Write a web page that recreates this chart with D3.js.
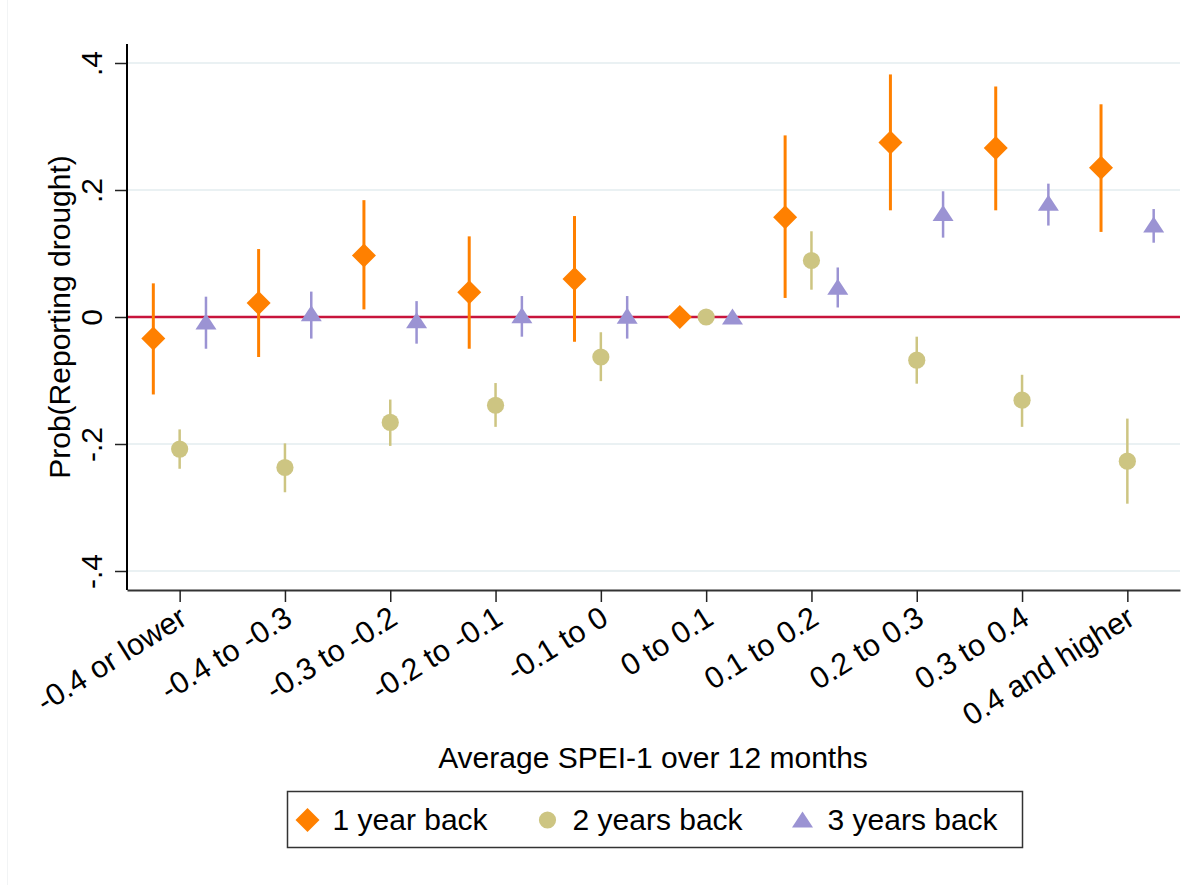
<!DOCTYPE html>
<html>
<head>
<meta charset="utf-8">
<script src="https://cdn.jsdelivr.net/npm/d3@7"></script>
<style>
  body { margin: 0; background: #fff; }
  text { font-family: "Liberation Sans", Arial, sans-serif; fill: #000; }
</style>
</head>
<body>
<div id="painting"></div>
<script>
// categories of average SPEI-1
var categories = ["-0.4 or lower", "-0.4 to -0.3", "-0.3 to -0.2", "-0.2 to -0.1", "-0.1 to 0",
  "0 to 0.1", "0.1 to 0.2", "0.2 to 0.3", "0.3 to 0.4", "0.4 and higher"];

var yTicks = [0.4, 0.2, 0, -0.2, -0.4];
var yTickLabels = [".4", ".2", "0", "-.2", "-.4"];

// 1 year back
var est1 = [-0.034, 0.022, 0.097, 0.039, 0.060, 0, 0.157, 0.275, 0.266, 0.235];
var lo1  = [-0.122, -0.063, 0.012, -0.050, -0.039, 0, 0.030, 0.168, 0.168, 0.134];
var hi1  = [0.053, 0.107, 0.184, 0.127, 0.159, 0, 0.286, 0.382, 0.363, 0.335];

// 2 years back
var est2 = [-0.208, -0.237, -0.166, -0.139, -0.063, 0, 0.089, -0.068, -0.131, -0.227];
var lo2  = [-0.239, -0.276, -0.203, -0.173, -0.101, 0, 0.043, -0.105, -0.173, -0.294];
var hi2  = [-0.177, -0.199, -0.130, -0.104, -0.024, 0, 0.135, -0.031, -0.091, -0.160];

// 3 years back
var est3 = [-0.008, 0.005, -0.006, 0.002, 0.001, 0, 0.047, 0.163, 0.179, 0.145];
var lo3  = [-0.050, -0.034, -0.042, -0.031, -0.034, 0, 0.015, 0.125, 0.144, 0.117];
var hi3  = [0.032, 0.040, 0.025, 0.033, 0.033, 0, 0.078, 0.198, 0.210, 0.170];

var seriesNames = ["1 year back", "2 years back", "3 years back"];

var series = [
  {name: seriesNames[0], est: est1, lo: lo1, hi: hi1, colour: "#ff8000", shape: "diamond", shift: -0.25, lw: 3},
  {name: seriesNames[1], est: est2, lo: lo2, hi: hi2, colour: "#cdc582", shape: "circle", shift: 0, lw: 2.5},
  {name: seriesNames[2], est: est3, lo: lo3, hi: hi3, colour: "#9b93d3", shape: "triangle", shift: 0.25, lw: 2.5}
];

var W = 1197, H = 885;
var plotLeft = 127, plotRight = 1180, plotTop = 44, plotBottom = 590;

var svg = d3.select("#painting")
  .append("svg")
  .attr("width", W)
  .attr("height", H);

// faint outer frame edge
svg.append("line")
  .attr("x1", 7.5).attr("x2", 7.5)
  .attr("y1", 0).attr("y2", H)
  .attr("stroke", "#f2f4f5")
  .attr("stroke-width", 1);

var xScale = d3.scaleLinear().domain([-0.5, categories.length - 0.5]).range([plotLeft, plotRight]);
var yScale = d3.scaleLinear().domain([-0.4, 0.4]).range([571, 63]);

// gridlines
svg.append("g")
  .selectAll("line")
  .data(yTicks.filter(function(d) { return d !== 0; }))
  .enter()
  .append("line")
  .attr("x1", plotLeft).attr("x2", plotRight)
  .attr("y1", function(d) { return yScale(d); })
  .attr("y2", function(d) { return yScale(d); })
  .attr("stroke", "#eaf1f3")
  .attr("stroke-width", 2);

// zero line
svg.append("line")
  .attr("x1", plotLeft).attr("x2", plotRight)
  .attr("y1", yScale(0)).attr("y2", yScale(0))
  .attr("stroke", "#c8143c")
  .attr("stroke-width", 2.5);

// y axis
var yAxis = d3.axisLeft(yScale)
  .tickValues(yTicks)
  .tickFormat(function(d, i) { return yTickLabels[i]; })
  .tickSize(12)
  .tickSizeOuter(0);

var gy = svg.append("g")
  .attr("transform", "translate(" + plotLeft + ",0)")
  .call(yAxis);
gy.select(".domain").remove();
gy.selectAll(".tick line").attr("stroke", "#222").attr("stroke-width", 1.5);
gy.selectAll(".tick text")
  .attr("x", 0).attr("dy", 0)
  .attr("transform", "translate(-25,0) rotate(-90)")
  .attr("text-anchor", "middle")
  .style("font-size", "30px")
  .style("font-family", "'Liberation Sans', Arial, sans-serif")
  .attr("fill", "#000");
svg.append("line")
  .attr("x1", plotLeft).attr("x2", plotLeft)
  .attr("y1", plotTop).attr("y2", plotBottom)
  .attr("stroke", "#000").attr("stroke-width", 2);

// x axis
var xAxis = d3.axisBottom(xScale)
  .tickValues(d3.range(categories.length))
  .tickFormat(function(i) { return categories[i]; })
  .tickSize(12)
  .tickSizeOuter(0);

var gx = svg.append("g")
  .attr("transform", "translate(0," + plotBottom + ")")
  .call(xAxis);
gx.select(".domain").attr("stroke", "#333").attr("stroke-width", 2);
gx.selectAll(".tick line").attr("stroke", "#222").attr("stroke-width", 1.5);
gx.selectAll(".tick text")
  .attr("x", 0).attr("y", 0).attr("dy", "0.35em")
  .attr("transform", "translate(3,24) rotate(-32)")
  .attr("text-anchor", "end")
  .style("font-size", "30.5px")
  .style("font-family", "'Liberation Sans', Arial, sans-serif")
  .attr("fill", "#000");

// axis titles
svg.append("text")
  .attr("transform", "translate(70," + ((plotTop + plotBottom) / 2) + ") rotate(-90)")
  .attr("text-anchor", "middle")
  .style("font-size", "30px")
  .text("Prob(Reporting drought)");

svg.append("text")
  .attr("x", 653).attr("y", 768)
  .attr("text-anchor", "middle")
  .style("font-size", "30px")
  .text("Average SPEI-1 over 12 months");

// marker shapes
var markerPath = function(shape) {
  if (shape === "diamond") return "M0,-12L12,0L0,12L-12,0Z";
  if (shape === "triangle") return "M0,-8.5L10.5,7.5L-10.5,7.5Z";
  return d3.symbol().type(d3.symbolCircle).size(Math.PI * 8.6 * 8.6)();
};

// error bars and markers
series.forEach(function(s) {
  var g = svg.append("g");
  var rows = s.est.map(function(d, i) { return {i: i, est: d, lo: s.lo[i], hi: s.hi[i]}; });

  g.selectAll("line")
    .data(rows.filter(function(d) { return d.hi !== d.lo; }))
    .enter()
    .append("line")
    .attr("x1", function(d) { return xScale(d.i + s.shift); })
    .attr("x2", function(d) { return xScale(d.i + s.shift); })
    .attr("y1", function(d) { return yScale(d.lo); })
    .attr("y2", function(d) { return yScale(d.hi); })
    .attr("stroke", s.colour)
    .attr("stroke-width", s.lw);

  g.selectAll("path")
    .data(rows)
    .enter()
    .append("path")
    .attr("d", markerPath(s.shape))
    .attr("transform", function(d) { return "translate(" + xScale(d.i + s.shift) + "," + yScale(d.est) + ")"; })
    .attr("fill", s.colour);
});

// legend
var legend = svg.append("g");
legend.append("rect")
  .attr("x", 287.5).attr("y", 791.5)
  .attr("width", 735).attr("height", 56)
  .attr("fill", "#fff")
  .attr("stroke", "#333")
  .attr("stroke-width", 1.5);

var legendX = [307.5, 547.5, 802.5];
series.forEach(function(s, i) {
  legend.append("path")
    .attr("d", markerPath(s.shape))
    .attr("transform", "translate(" + legendX[i] + ",820)")
    .attr("fill", s.colour);
  legend.append("text")
    .attr("x", legendX[i] + 25)
    .attr("y", 830)
    .style("font-size", "30px")
    .text(s.name);
});
</script>
</body>
</html>
